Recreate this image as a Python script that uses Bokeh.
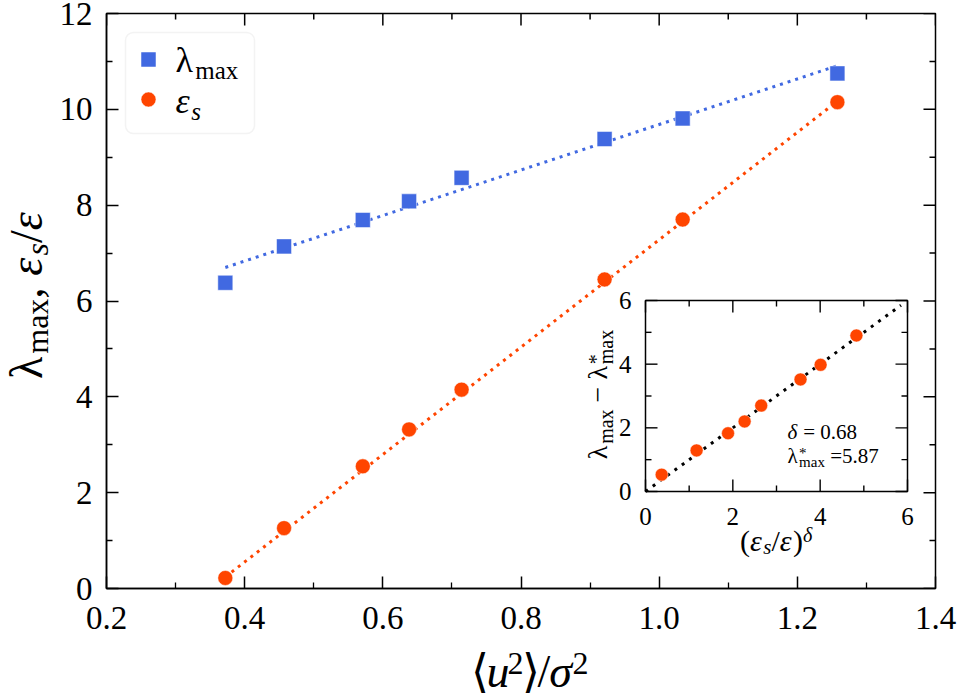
import math
from bokeh.plotting import figure
from bokeh.layouts import row, column
from bokeh.models import Range1d, FixedTicker, Label, BoxAnnotation
from bokeh.embed import file_html
from bokeh.resources import INLINE
from bokeh.core.properties import value

# ---------------- data ----------------
u2 = [0.372, 0.457, 0.571, 0.638, 0.714, 0.921, 1.034, 1.258]
lam_max = [6.38, 7.14, 7.69, 8.08, 8.57, 9.38, 9.81, 10.75]
eps_s = [0.22, 1.26, 2.55, 3.32, 4.15, 6.45, 7.70, 10.15]

fit_u2 = [0.372, 1.258]
fit_lam = [6.70, 10.91]
fit_eps = [0.24, 10.17]

inset_x = [0.37, 1.17, 1.89, 2.27, 2.65, 3.55, 4.01, 4.83]
inset_y = [0.53, 1.29, 1.83, 2.20, 2.70, 3.52, 3.98, 4.90]
inset_fit_x = [0.0, 5.85]
inset_fit_y = [0.0, 5.85]

x_ticks = [0.2, 0.4, 0.6, 0.8, 1.0, 1.2, 1.4]
x_tick_labels = ["0.2", "0.4", "0.6", "0.8", "1.0", "1.2", "1.4"]
x_minor = [0.3, 0.5, 0.7, 0.9, 1.1, 1.3]
y_ticks = [0, 2, 4, 6, 8, 10, 12]
y_tick_labels = ["0", "2", "4", "6", "8", "10", "12"]
y_minor = [1, 3, 5, 7, 9, 11]
inset_ticks = [0, 2, 4, 6]
inset_tick_labels = ["0", "2", "4", "6"]
inset_minor = [1, 3, 5]

BLUE = "#4169E1"
ORANGE = "#FF4500"
FONT = "Liberation Serif"
NB = "\u00a0"

# ---------------- layout (page pixels) ----------------
W, H = 957, 699
YL_W = 56            # width of the strip holding the y-axis title
XL_TOP = 645         # top of the strip holding the x-axis title
FL, FR, FT, FB = 104, 933, 13, 588       # main frame
IL, IR, IT, IB = 643, 905, 300, 491      # inset frame
XMIN, XMAX, YMIN, YMAX = 0.2, 1.4, 0.0, 12.0
MID = 0.34           # em distance from baseline to text middle


def main_conv(px, py):
    return (XMIN + (px - FL) / (FR - FL) * (XMAX - XMIN),
            YMIN + (FB - py) / (FB - FT) * (YMAX - YMIN))


def page_conv(px, py):
    return px, py


def X(px):
    return main_conv(px, 0)[0]


def Y(py):
    return main_conv(0, py)[1]


p = figure(frame_width=FR - FL, frame_height=FB - FT,
           x_range=Range1d(XMIN, XMAX), y_range=Range1d(YMIN, YMAX),
           output_backend="svg", toolbar_location=None,
           min_border_left=FL - YL_W, min_border_right=W - FR,
           min_border_top=FT, min_border_bottom=XL_TOP - FB,
           background_fill_color="white", border_fill_color="white")
p.grid.visible = False
p.outline_line_color = "black"
p.outline_line_width = 1.5

for ax in (p.xaxis[0], p.yaxis[0]):
    ax.major_tick_in = 12
    ax.major_tick_out = 0
    ax.minor_tick_in = 6
    ax.minor_tick_out = 0
    ax.major_tick_line_width = 1.5
    ax.minor_tick_line_width = 1.3
    ax.axis_line_width = 1.5
    ax.major_tick_line_color = "black"
    ax.minor_tick_line_color = "black"
    ax.axis_line_color = "black"
    ax.major_label_text_font = FONT
    ax.major_label_text_font_size = "33px"
    ax.major_label_text_color = "black"

p.xaxis.ticker = FixedTicker(ticks=x_ticks, minor_ticks=x_minor)
p.xaxis.major_label_overrides = dict(zip(x_ticks, x_tick_labels))
p.yaxis.ticker = FixedTicker(ticks=y_ticks, minor_ticks=y_minor)
p.yaxis.major_label_overrides = dict(zip(y_ticks, y_tick_labels))
p.yaxis.major_label_text_line_height = 0.8
p.xaxis.major_label_standoff = 18
p.yaxis.major_label_standoff = 14

# mirrored ticks on the top and right edges of the main frame
for t_list, ln in ((x_ticks, 12), (x_minor, 6)):
    p.ray(x=t_list, y=[YMAX] * len(t_list), length=ln, angle=-math.pi / 2,
          length_units="screen", line_color="black", line_width=1.5)
for t_list, ln in ((y_ticks, 12), (y_minor, 6)):
    p.ray(x=[XMAX] * len(t_list), y=t_list, length=ln, angle=math.pi,
          length_units="screen", line_color="black", line_width=1.5)

# ---------------- main data ----------------
p.line(fit_u2, fit_lam, line_color=BLUE, line_width=3, line_dash="3 5")
p.line(fit_u2, fit_eps, line_color=ORANGE, line_width=3, line_dash="3 5")
p.scatter(u2, lam_max, marker="square", size=15, fill_color=BLUE,
          line_color="white", line_alpha=0.5, line_width=1)
p.scatter(u2, eps_s, marker="circle", size=15, fill_color=ORANGE,
          line_color="white", line_alpha=0.5, line_width=1)

# ---------------- inset (mapped into the main frame) ----------------
isx = 6.0 / (IR - IL)
isy = 6.0 / (IB - IT)
p.extra_x_ranges = {"ix": Range1d(0 - (IL - FL) * isx, 6 + (FR - IR) * isx)}
p.extra_y_ranges = {"iy": Range1d(0 - (FB - IB) * isy, 6 + (IT - FT) * isy)}
IK = dict(x_range_name="ix", y_range_name="iy")
p.quad(left=[0], right=[6], bottom=[0], top=[6], fill_color="white",
       line_color="black", line_width=1.5, **IK)
for t_list, ln in ((inset_ticks, 12), (inset_minor, 6)):
    n = len(t_list)
    p.ray(x=t_list, y=[0] * n, length=ln, angle=math.pi / 2, length_units="screen",
          line_color="black", line_width=1.4, **IK)
    p.ray(x=t_list, y=[6] * n, length=ln, angle=-math.pi / 2, length_units="screen",
          line_color="black", line_width=1.4, **IK)
    p.ray(x=[0] * n, y=t_list, length=ln, angle=0, length_units="screen",
          line_color="black", line_width=1.4, **IK)
    p.ray(x=[6] * n, y=t_list, length=ln, angle=math.pi, length_units="screen",
          line_color="black", line_width=1.4, **IK)
p.line(inset_fit_x, inset_fit_y, line_color="black", line_width=3, line_dash="3 6", **IK)
p.scatter(inset_x, inset_y, marker="circle", size=13, fill_color=ORANGE,
          line_color="white", line_alpha=0.5, line_width=1, **IK)
p.text(x=inset_ticks, y=[-(516 - IB) * isy] * 4, text=inset_tick_labels,
       text_font=value(FONT), text_font_size="25px", text_align="center",
       text_baseline="middle", text_color="black", **IK)
p.text(x=[-(IL - 629) * isx] * 4, y=inset_ticks, text=inset_tick_labels,
       text_font=value(FONT), text_font_size="25px", text_align="right",
       text_baseline="middle", text_color="black", **IK)

# ---------------- legend ----------------
p.add_layout(BoxAnnotation(left=X(123), right=X(252), top=Y(32), bottom=Y(133),
                           fill_color="white", fill_alpha=1.0, line_color="#d6d6d6",
                           line_width=1.5, border_radius=8, level="underlay"))
p.scatter([X(146)], [Y(59)], marker="square", size=15, fill_color=BLUE,
          line_color="white", line_alpha=0.5, line_width=1)
p.scatter([X(146)], [Y(99)], marker="circle", size=15, fill_color=ORANGE,
          line_color="white", line_alpha=0.5, line_width=1)

# ---------------- side strips for the axis titles ----------------
fy = figure(width=YL_W, height=H, x_range=Range1d(0, YL_W), y_range=Range1d(H, 0),
            output_backend="svg", toolbar_location=None, x_axis_location=None,
            y_axis_location=None, min_border=0, outline_line_color=None,
            background_fill_color="white", border_fill_color="white")
fy.grid.visible = False
fx = figure(width=W - YL_W, height=H - XL_TOP, x_range=Range1d(YL_W, W),
            y_range=Range1d(H, XL_TOP), output_backend="svg", toolbar_location=None,
            x_axis_location=None, y_axis_location=None, min_border=0,
            outline_line_color=None, background_fill_color="white",
            border_fill_color="white")
fx.grid.visible = False

# ---------------- composed texts ----------------
CW = {"λ": 0.55, "m": 0.778, "a": 0.444, "x": 0.5, ",": 0.25, " ": 0.25, NB: 0.25,
      "/": 0.278, "(": 0.333, ")": 0.333, "=": 0.564, "−": 0.564, "*": 0.5, ".": 0.25,
      "ε": 0.44, "s": 0.389, "u": 0.5, "σ": 0.55, "δ": 0.5, "⟨": 0.36, "⟩": 0.36}


def tw(s, size):
    return sum(CW.get(ch, 0.5) for ch in s) * size


def compose(fig, conv, pieces, x0, y0, rotated=False, center=False):
    # piece: (text, size, style, shift_px (+ = below baseline), advance)
    total = sum(tw(t, s) for t, s, st, sh, adv in pieces if adv)
    pos = -total / 2 if center else 0
    for t, s, st, sh, adv in pieces:
        off = sh - MID * s
        if rotated:
            px, py, ang = x0 + off, y0 - pos, math.pi / 2
        else:
            px, py, ang = x0 + pos, y0 + off, 0
        dx, dy = conv(px, py)
        fig.add_layout(Label(x=dx, y=dy, text=t, text_font=FONT,
                             text_font_size=f"{s}px", text_font_style=st,
                             text_color="black", angle=ang, text_align="left",
                             text_baseline="middle"))
        if adv:
            pos += tw(t, s)


N, I = "normal", "italic"
# main y title
compose(fy, page_conv,
        [("λ", 46, N, 0, True), ("max", 32, N, 5, True), ("," + NB, 46, N, 0, True),
         ("ε", 46, I, 0, True), ("s", 32, I, 5, True), ("/", 46, N, 0, True),
         ("ε", 46, I, 0, True)], 42, 294, rotated=True, center=True)
# main x title
compose(fx, page_conv,
        [("⟨", 46, N, 0, True), ("u", 46, I, 0, True), ("2", 32, N, -13, True),
         ("⟩", 46, N, 0, True), ("/", 46, N, 0, True), ("σ", 46, I, 0, True),
         ("2", 32, N, -13, True)], (FL + FR) / 2 - 2, 687, center=True)
# legend labels
compose(p, main_conv, [("λ", 36, N, 0, True), ("max", 25, N, 6, True)], 173, 72)
compose(p, main_conv, [("ε", 36, I, 0, True), ("s", 25, I, 6, True)], 173, 113)
# inset y title
compose(p, main_conv,
        [("λ", 28, N, 0, True), ("max", 20, N, 5, True), (NB + "−" + NB, 28, N, 0, True),
         ("λ", 28, N, 0, True), ("*", 20, N, -5, False), ("max", 20, N, 5, True)],
        605, 394, rotated=True, center=True)
# inset x title
compose(p, main_conv,
        [("(", 30, N, 0, True), ("ε", 30, I, 0, True), ("s", 21, I, 4, True),
         ("/", 30, N, 0, True), ("ε", 30, I, 0, True), (")", 30, N, 0, True),
         ("δ", 20, I, -9, True)], (IL + IR) / 2, 550, center=True)
# annotations
compose(p, main_conv, [("δ", 21, I, 0, True), (NB + "=" + NB + "0.68", 21, N, 0, True)],
        785, 439)
compose(p, main_conv, [("λ", 21, N, 0, True), ("*", 15, N, -5, False),
                       ("max", 15, N, 4, True), (NB + "=5.87", 21, N, 0, True)],
        785, 463)

layout = row(fy, column(p, fx, spacing=0), spacing=0)
open("out.html", "w").write(file_html(layout, INLINE))
